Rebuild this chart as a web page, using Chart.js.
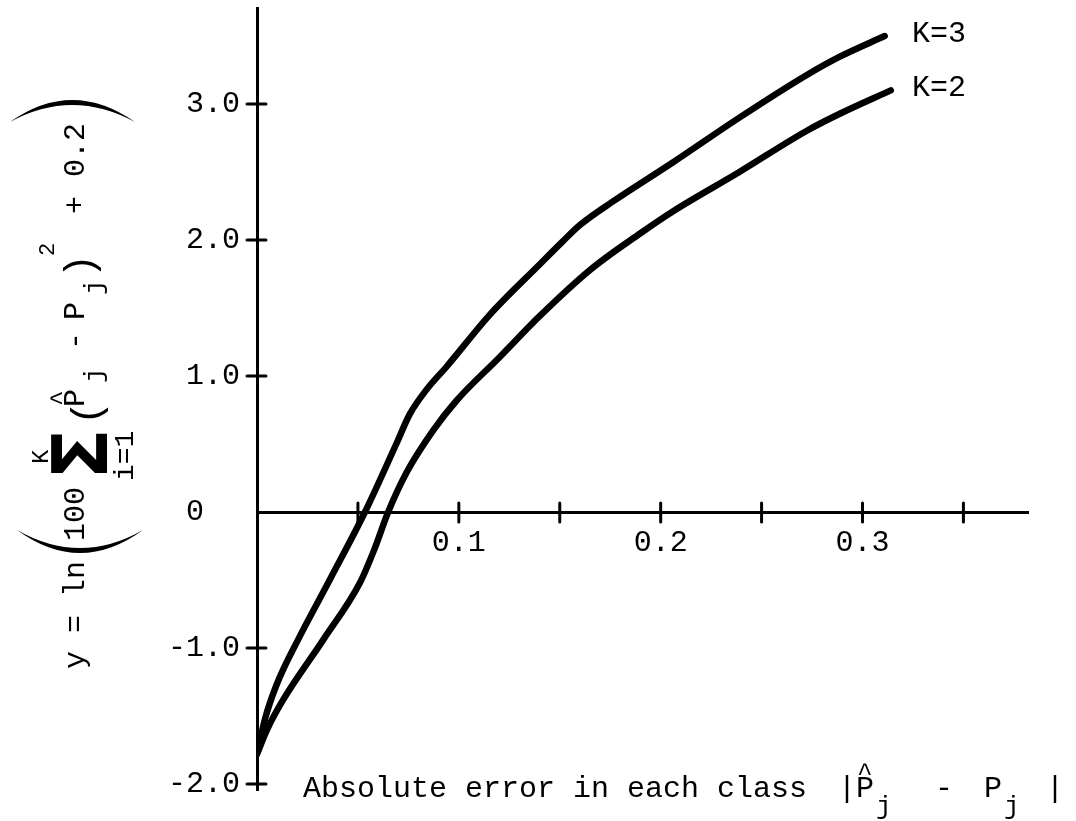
<!DOCTYPE html>
<html>
<head>
<meta charset="utf-8">
<script src="https://cdn.jsdelivr.net/npm/chart.js@4/dist/chart.umd.min.js"></script>
<style>
  html, body { margin: 0; padding: 0; background: #fff; }
  #wrap { width: 1076px; height: 821px; }
</style>
</head>
<body>
<div id="wrap"><canvas id="c" width="1076" height="821"></canvas></div>
<script>
// ---- data ----
const seriesLabels = ['K=3', 'K=2'];
const k3X = [0, 0.004, 0.0097, 0.021, 0.036, 0.0535, 0.069, 0.0757, 0.084, 0.094, 0.1153, 0.140, 0.1515, 0.160, 0.176, 0.206, 0.239, 0.272, 0.289, 0.311];
const k3Y = [-1.78, -1.52, -1.27, -0.92, -0.50, 0.0, 0.50, 0.72, 0.90, 1.07, 1.45, 1.82, 1.99, 2.11, 2.28, 2.57, 2.90, 3.21, 3.35, 3.50];
const k2X = [0, 0.005, 0.013, 0.0328, 0.051, 0.058, 0.065, 0.0741, 0.0873, 0.0989, 0.1203, 0.140, 0.165, 0.190, 0.206, 0.239, 0.272, 0.289, 0.314];
const k2Y = [-1.78, -1.60, -1.38, -0.94, -0.52, -0.28, 0.0, 0.29, 0.60, 0.82, 1.14, 1.44, 1.78, 2.05, 2.21, 2.50, 2.80, 2.93, 3.10];
const xTickValues = [0.05, 0.1, 0.15, 0.2, 0.25, 0.3, 0.35];
const xTickLabels = ['', '0.1', '', '0.2', '', '0.3', ''];
const yTickValues = [-2, -1, 0, 1, 2, 3];
const yTickLabels = ['-2.0', '-1.0', '0  ', '1.0', '2.0', '3.0'];
const xTitle = 'Absolute error in each class';

const MONO = '"Liberation Mono", "DejaVu Sans Mono", monospace';
Chart.defaults.font.family = MONO;
Chart.defaults.color = '#000';

function toPts(xs, ys) { return xs.map((x, i) => ({ x: x, y: ys[i] })); }

function rotText(ctx, text, bx, sy, font) {
  ctx.save();
  ctx.translate(bx, sy);
  ctx.rotate(-Math.PI / 2);
  ctx.font = font;
  ctx.textAlign = 'left';
  ctx.textBaseline = 'alphabetic';
  ctx.fillText(text, 0, 0);
  ctx.restore();
}
function crescent(ctx, x1, y1, x2, y2, cxo, cyo, cxi, cyi) {
  ctx.beginPath();
  ctx.moveTo(x1, y1);
  ctx.quadraticCurveTo(cxo, cyo, x2, y2);
  ctx.quadraticCurveTo(cxi, cyi, x1, y1);
  ctx.closePath();
  ctx.fill();
}

const decor = {
  id: 'decor',
  afterDraw(chart) {
    const { ctx, scales: { x, y } } = chart;
    const x0 = x.getPixelForValue(0), y0 = y.getPixelForValue(0);
    ctx.save();
    ctx.strokeStyle = '#000';
    ctx.fillStyle = '#000';
    ctx.lineWidth = 3;
    ctx.lineCap = 'round';
    // crossing tick marks
    xTickValues.forEach(v => {
      const px = x.getPixelForValue(v);
      ctx.beginPath(); ctx.moveTo(px, y0 - 9); ctx.lineTo(px, y0 + 10); ctx.stroke();
    });
    yTickValues.filter(v => v !== 0).forEach(v => {
      const py = y.getPixelForValue(v);
      ctx.beginPath(); ctx.moveTo(x0 - 10, py); ctx.lineTo(x0 + 9, py); ctx.stroke();
    });
    // series labels at line ends
    ctx.font = '30px ' + MONO;
    ctx.textAlign = 'left';
    ctx.textBaseline = 'alphabetic';
    chart.data.datasets.forEach(ds => {
      const last = ds.data[ds.data.length - 1];
      const py = y.getPixelForValue(last.y);
      ctx.fillText(ds.label, 912, py + 6);
    });
    // x axis title
    ctx.fillText(xTitle, 303, 797);
    ctx.fillText('|', 838, 797);
    ctx.fillText('P', 856, 797);
    ctx.font = '26px ' + MONO;
    ctx.fillText('^', 857, 781);
    ctx.fillText('j', 876, 814);
    ctx.font = '30px ' + MONO;
    ctx.fillText('-', 935, 797);
    ctx.fillText('P', 984, 797);
    ctx.font = '26px ' + MONO;
    ctx.fillText('j', 1004, 814);
    ctx.font = '30px ' + MONO;
    ctx.fillText('|', 1046, 797);

    // y axis title (rotated formula)
    const f30 = '30px ' + MONO;
    rotText(ctx, 'y = ln', 84, 669, f30);
    crescent(ctx, 17, 530, 143, 530, 80, 576, 80, 566);
    rotText(ctx, '100', 84, 541, f30);
    rotText(ctx, '\u03A3', 107, 480, 'bold 76px "DejaVu Sans"');
    rotText(ctx, 'K', 48, 464, '24px ' + MONO);
    rotText(ctx, 'i=1', 133, 481, '28px ' + MONO);
    rotText(ctx, '(', 100, 425, '40px ' + MONO);
    rotText(ctx, 'P', 84, 407, f30);
    rotText(ctx, '^', 68, 406, '26px ' + MONO);
    rotText(ctx, 'j', 102, 383, '26px ' + MONO);
    rotText(ctx, '-', 84, 350, f30);
    rotText(ctx, 'P', 84, 320, f30);
    rotText(ctx, 'j', 102, 295, '26px ' + MONO);
    rotText(ctx, ')', 93, 278, '40px ' + MONO);
    rotText(ctx, '2', 54, 256, '22px ' + MONO);
    rotText(ctx, '+', 84, 214, f30);
    rotText(ctx, '0.2', 84, 177, f30);
    crescent(ctx, 10, 122, 135, 122, 72, 78, 72, 88);
    ctx.restore();
  }
};

new Chart(document.getElementById('c'), {
  type: 'line',
  data: {
    datasets: [
      { label: seriesLabels[0], data: toPts(k3X, k3Y) },
      { label: seriesLabels[1], data: toPts(k2X, k2Y) }
    ]
  },
  options: {
    responsive: false,
    animation: false,
    devicePixelRatio: 1,
    layout: { padding: { left: 0, top: 8, right: 48, bottom: 31 } },
    elements: {
      line: { borderColor: '#000', borderWidth: 6.5, borderCapStyle: 'round', borderJoinStyle: 'round', cubicInterpolationMode: 'monotone', fill: false },
      point: { radius: 0, hoverRadius: 0 }
    },
    plugins: { legend: { display: false }, tooltip: { enabled: false }, title: { display: false } },
    scales: {
      x: {
        type: 'linear', min: 0, max: 0.382,
        position: { y: 0 },
        afterBuildTicks: s => { s.ticks = xTickValues.map(v => ({ value: v })); },
        afterFit: s => { s.paddingLeft = 0; s.paddingRight = 0; },
        ticks: {
          callback: v => xTickLabels[xTickValues.indexOf(v)],
          autoSkip: false, maxRotation: 0, padding: 13,
          font: { size: 30 }
        },
        grid: { drawOnChartArea: false, drawTicks: false },
        border: { display: true, color: '#000', width: 3 }
      },
      y: {
        type: 'linear', min: -2.044, max: 3.706,
        position: 'left',
        afterBuildTicks: s => { s.ticks = yTickValues.map(v => ({ value: v })); },
        afterFit: s => { s.width = 257; s.paddingTop = 0; s.paddingBottom = 0; },
        ticks: {
          callback: v => yTickLabels[yTickValues.indexOf(v)],
          autoSkip: false, padding: 17,
          font: { size: 30 }
        },
        grid: { drawOnChartArea: false, drawTicks: false },
        border: { display: true, color: '#000', width: 3 }
      }
    }
  },
  plugins: [decor]
});
</script>
</body>
</html>
